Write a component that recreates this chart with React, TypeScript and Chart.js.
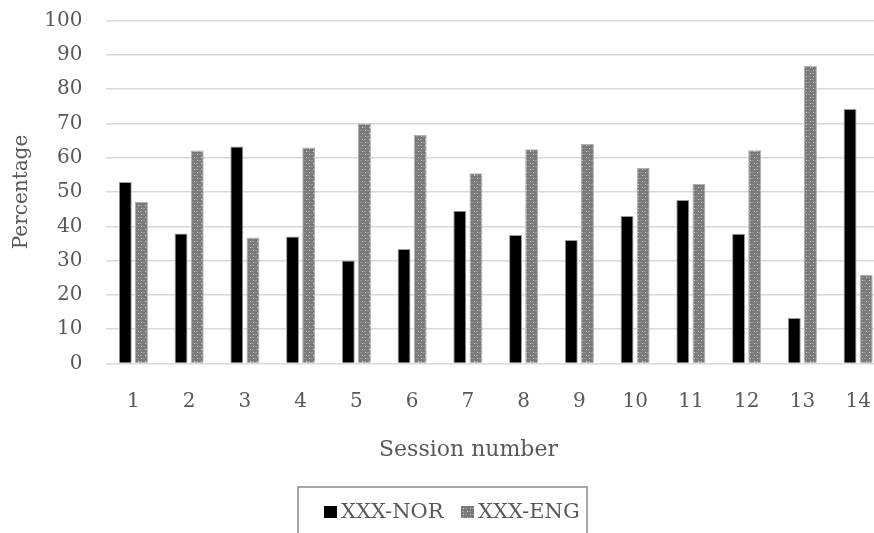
import React, { useEffect, useRef } from "react";
import { Chart, registerables } from "chart.js";

Chart.register(...registerables);

// Share of each session, per language condition (percent)
const sessions = ["1", "2", "3", "4", "5", "6", "7", "8", "9", "10", "11", "12", "13", "14"];
const norValues = [52.9, 37.9, 63.3, 37.0, 30.0, 33.4, 44.5, 37.5, 36.0, 43.0, 47.7, 37.8, 13.3, 74.2];
const engValues = [47.1, 62.1, 36.7, 63.0, 70.0, 66.6, 55.5, 62.5, 64.0, 57.0, 52.3, 62.2, 86.7, 25.8];
const seriesNames = ["XXX-NOR", "XXX-ENG"];
const yMin = 0;
const yMax = 100;
const yStep = 10;
const xTitle = "Session number";
const yTitle = "Percentage";

const TEXT = "#595959";
const FAMILY = "'DejaVu Serif', 'Liberation Serif', serif";

// Grey fill with a sparse light dotted texture
function dottedFill(): CanvasPattern | string {
  const c = document.createElement("canvas");
  c.width = 7;
  c.height = 6;
  const g = c.getContext("2d");
  if (!g) return "#7f7f7f";
  g.fillStyle = "#7a7a7a";
  g.fillRect(0, 0, 7, 6);
  g.fillStyle = "#999999";
  g.fillRect(0, 1, 2, 1);
  g.fillRect(3, 4, 2, 1);
  g.fillStyle = "#d6d6d6";
  g.fillRect(5, 1, 1, 1);
  g.fillRect(1, 4, 1, 1);
  return g.createPattern(c, "repeat") || "#7f7f7f";
}

export default function App() {
  const canvasRef = useRef<HTMLCanvasElement | null>(null);

  useEffect(() => {
    const canvas = canvasRef.current;
    if (!canvas) return;
    const pattern = dottedFill();

    // Axis title under the categories and a framed legend below it
    const extras = {
      id: "sessionExtras",
      afterDraw(chart: Chart) {
        const { ctx, chartArea } = chart;
        ctx.save();
        ctx.fillStyle = TEXT;
        ctx.textBaseline = "middle";
        ctx.textAlign = "center";
        ctx.font = `22px ${FAMILY}`;
        ctx.fillText(xTitle, 468.5, chartArea.bottom + 86.5);

        // legend frame
        ctx.strokeStyle = "#8a8a8a";
        ctx.lineWidth = 1.5;
        ctx.strokeRect(298, 487, 289, 80);

        const ly = 513;
        ctx.textAlign = "left";
        ctx.font = `21px ${FAMILY}`;
        const items = [
          { x: 324, fill: "#000000" as string | CanvasPattern },
          { x: 461, fill: pattern },
        ];
        items.forEach((it, i) => {
          ctx.fillStyle = it.fill;
          ctx.fillRect(it.x, ly - 7, 13, 12);
          ctx.fillStyle = TEXT;
          ctx.fillText(seriesNames[i], it.x + 17, ly);
        });
        ctx.restore();
      },
    };

    const chart = new Chart(canvas, {
      type: "bar",
      data: {
        labels: sessions,
        datasets: [
          {
            label: seriesNames[0],
            data: norValues,
            backgroundColor: "#000000",
            borderColor: "#9a9a9a",
            borderWidth: 1,
            barPercentage: 0.8,
            categoryPercentage: 0.58,
          },
          {
            label: seriesNames[1],
            data: engValues,
            backgroundColor: pattern,
            borderColor: "#b0b0b0",
            borderWidth: 1,
            barPercentage: 0.8,
            categoryPercentage: 0.58,
          },
        ],
      },
      options: {
        animation: false,
        responsive: false,
        layout: { padding: { top: 20.5, left: 0, right: 0, bottom: 0 } },
        plugins: {
          legend: { display: false },
          tooltip: { enabled: false },
        },
        scales: {
          x: {
            grid: { display: false },
            border: { display: false },
            ticks: { color: TEXT, font: { family: FAMILY, size: 20 }, padding: 18 },
            afterFit: (s: any) => {
              s.height = 169.5;
              s.paddingLeft = 0;
              s.paddingRight = 0;
            },
          },
          y: {
            min: yMin,
            max: yMax,
            ticks: { stepSize: yStep, color: TEXT, font: { family: FAMILY, size: 20 }, padding: 23 },
            grid: { color: "#d9d9d9", lineWidth: 1.5, drawTicks: false },
            border: { display: false },
            title: {
              display: true,
              text: yTitle,
              color: TEXT,
              font: { family: FAMILY, size: 20 },
              padding: { top: 10, bottom: 0 },
            },
            afterFit: (s: any) => {
              s.width = 105.5;
              s.paddingTop = 0;
              s.paddingBottom = 0;
            },
          },
        },
      },
      plugins: [extras],
    });

    return () => chart.destroy();
  }, []);

  return (
    <div
      style={{
        position: "fixed",
        left: 0,
        top: 0,
        width: 874,
        height: 533,
        overflow: "hidden",
        background: "#ffffff",
      }}
    >
      <canvas ref={canvasRef} width={886} height={533} style={{ display: "block" }} />
    </div>
  );
}
